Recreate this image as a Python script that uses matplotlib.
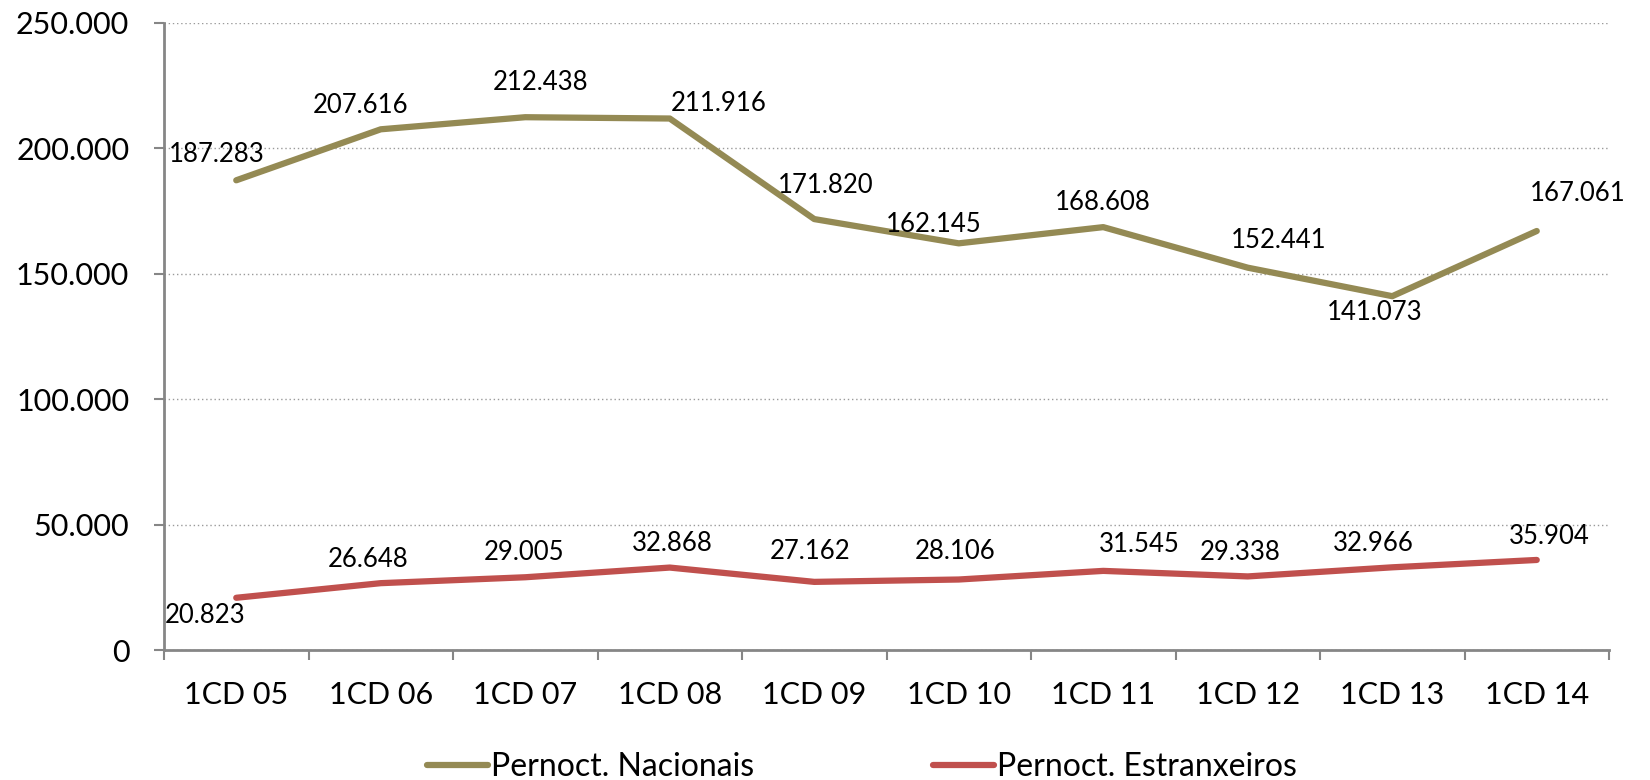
import matplotlib.pyplot as plt
from matplotlib.ticker import FuncFormatter

categories = ['1CD 05', '1CD 06', '1CD 07', '1CD 08', '1CD 09',
              '1CD 10', '1CD 11', '1CD 12', '1CD 13', '1CD 14']
nacionais = [187283, 207616, 212438, 211916, 171820,
             162145, 168608, 152441, 141073, 167061]
estranxeiros = [20823, 26648, 29005, 32868, 27162,
                28106, 31545, 29338, 32966, 35904]

# label offsets in pixels (dx, dy) relative to each point
nac_offsets = [(-20, 26), (-20, 24), (15, 35), (49, 15), (11, 34),
               (-25, 19), (0, 25), (31, 27), (-18, -16), (41, 38)]
est_offsets = [(-31, -18), (-13, 24), (-1, 25), (3, 24), (-4, 30),
               (-4, 28), (36, 26), (-8, 24), (-19, 24), (12, 23)]

plt.rcParams['font.family'] = ['Lato', 'DejaVu Sans']

olive = '#948A54'
red = '#C0504D'
axis_gray = '#868686'


def fmt(v):
    return f'{v:,.0f}'.replace(',', '.')


fig = plt.figure(figsize=(16.5, 7.8), dpi=100)
ax = fig.add_axes([164 / 1650, 1 - 650 / 780, (1609 - 164) / 1650, (650 - 23) / 780])

x = list(range(len(categories)))
ax.plot(x, nacionais, color=olive, lw=4.5, solid_capstyle='round',
        solid_joinstyle='round', label='Pernoct. Nacionais')
ax.plot(x, estranxeiros, color=red, lw=4.5, solid_capstyle='round',
        solid_joinstyle='round', label='Pernoct. Estranxeiros')

for xi, v, (dx, dy) in zip(x, nacionais, nac_offsets):
    ax.annotate(fmt(v), (xi, v), xytext=(dx, dy), textcoords='offset pixels',
                ha='center', va='center', fontsize=18.5)
for xi, v, (dx, dy) in zip(x, estranxeiros, est_offsets):
    ax.annotate(fmt(v), (xi, v), xytext=(dx, dy), textcoords='offset pixels',
                ha='center', va='center', fontsize=18.5)

ax.set_xlim(-0.5, len(categories) - 0.5)
ax.set_ylim(0, 250000)
ax.set_yticks(range(0, 250001, 50000))
ax.yaxis.set_major_formatter(FuncFormatter(lambda v, p: fmt(v)))
ax.set_xticks(x)
ax.set_xticklabels(categories)
ax.set_xticks([i - 0.5 for i in range(len(categories) + 1)], minor=True)

ax.tick_params(axis='x', which='major', length=0, pad=22, labelsize=22)
ax.tick_params(axis='x', which='minor', length=7, width=1.5, color=axis_gray, direction='out')
ax.tick_params(axis='y', length=7, width=1.5, color=axis_gray, pad=18, labelsize=22)

ax.grid(axis='y', color='#9a9a9a', linestyle=(0, (1, 2)), lw=1)
ax.set_axisbelow(True)
for s in ['top', 'right']:
    ax.spines[s].set_visible(False)
for s in ['left', 'bottom']:
    ax.spines[s].set_color(axis_gray)
    ax.spines[s].set_linewidth(2)

fig.legend(loc='center', bbox_to_anchor=(862 / 1650, 1 - 767 / 780), ncol=2,
           frameon=False, fontsize=23, handlelength=1.9, handletextpad=0.1,
           columnspacing=5.6)

fig.savefig('out.png', dpi=100)
